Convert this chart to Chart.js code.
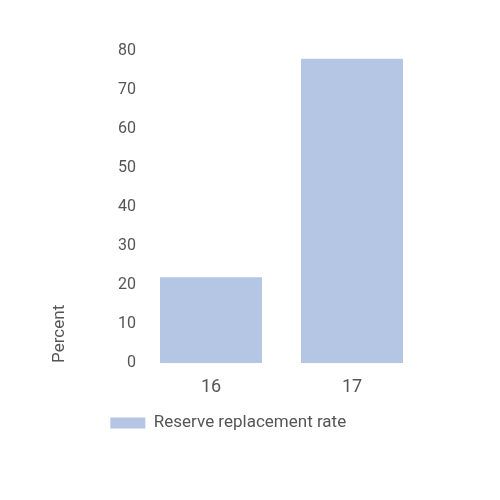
<!DOCTYPE html>
<html>
<head>
<meta charset="utf-8">
<script src="https://cdn.jsdelivr.net/npm/chart.js@4"></script>
<style>
html,body{margin:0;padding:0;background:#fff;}
#wrap{width:500px;height:500px;}
</style>
</head>
<body>
<div id="wrap"><canvas id="c" width="500" height="500"></canvas></div>
<script>
const categories = ["16", "17"];
const seriesLabel = "Reserve replacement rate";
const seriesValues = [22, 78];
const yTicks = [0, 10, 20, 30, 40, 50, 60, 70, 80];
const yTitle = "Percent";

const textColor = "#555555";
const barColor = "#b4c6e4";
const fontFamily = "Roboto, 'Liberation Sans', sans-serif";

Chart.defaults.font.family = fontFamily;
Chart.defaults.font.size = 16;
Chart.defaults.color = textColor;

new Chart(document.getElementById("c"), {
  type: "bar",
  data: {
    labels: categories,
    datasets: [{
      label: seriesLabel,
      data: seriesValues,
      backgroundColor: barColor,
      borderWidth: 0,
      categoryPercentage: 1,
      barPercentage: 0.723
    }]
  },
  options: {
    responsive: false,
    animation: false,
    layout: { padding: { left: 34, right: 77.5, top: 51, bottom: 58.5 } },
    plugins: {
      legend: {
        position: "bottom",
        labels: { boxWidth: 35, boxHeight: 11, padding: 2, color: textColor, font: { size: 17 } }
      },
      tooltip: { enabled: false }
    },
    scales: {
      x: {
        grid: { display: false, drawTicks: false },
        border: { display: false },
        ticks: { padding: 14, color: textColor, font: { size: 18 } }
      },
      y: {
        min: yTicks[0],
        max: yTicks[yTicks.length - 1],
        afterBuildTicks: (s) => { s.ticks = yTicks.map(v => ({ value: v })); },
        afterFit: (s) => { s.width = 106.5; },
        grid: { display: false, drawTicks: false },
        border: { display: false },
        ticks: { padding: 4.5, color: textColor, font: { size: 16 } },
        title: { display: true, text: yTitle, align: "start", color: textColor, font: { size: 17 }, padding: { top: 16, bottom: 0 } }
      }
    }
  }
});
</script>
</body>
</html>
